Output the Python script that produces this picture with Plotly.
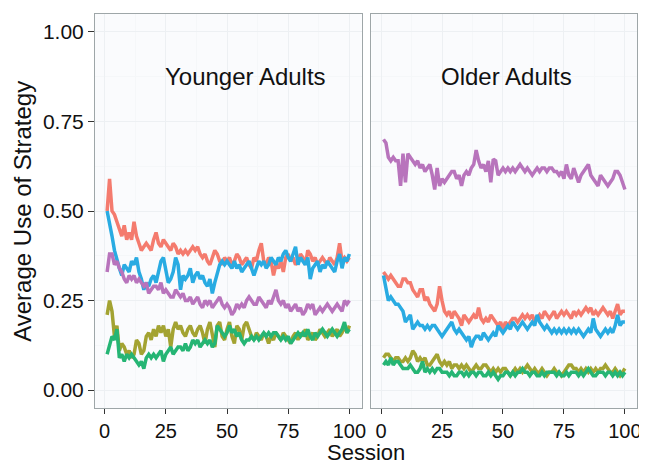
import plotly.graph_objects as go

sessions = list(range(1, 101))

panels = ["Younger Adults", "Older Adults"]
series_names = ["Strategy 1", "Strategy 2", "Strategy 3", "Strategy 4", "Strategy 5"]
colors = ["#F47B6E", "#A3A332", "#25B574", "#29ABE2", "#B874BC"]

young_red = [0.50, 0.59, 0.50, 0.49, 0.47, 0.45, 0.43, 0.46, 0.42, 0.44,
             0.42, 0.47, 0.43, 0.41, 0.39, 0.40, 0.41, 0.40, 0.39, 0.42,
             0.44, 0.41, 0.40, 0.42, 0.41, 0.40, 0.39, 0.41, 0.40, 0.38,
             0.39, 0.38, 0.39, 0.38, 0.39, 0.40, 0.39, 0.40, 0.38, 0.37,
             0.38, 0.36, 0.35, 0.37, 0.39, 0.38, 0.36, 0.35, 0.37, 0.36,
             0.37, 0.35, 0.36, 0.38, 0.37, 0.35, 0.36, 0.37, 0.35, 0.34,
             0.37, 0.36, 0.39, 0.41, 0.36, 0.35, 0.37, 0.36, 0.32, 0.35,
             0.34, 0.36, 0.33, 0.37, 0.38, 0.36, 0.37, 0.35, 0.36, 0.38,
             0.37, 0.35, 0.39, 0.38, 0.36, 0.37, 0.35, 0.36, 0.37, 0.36,
             0.35, 0.37, 0.36, 0.35, 0.37, 0.41, 0.36, 0.37, 0.36, 0.37]
young_olive = [0.21, 0.25, 0.22, 0.15, 0.18, 0.11, 0.13, 0.12, 0.10, 0.11,
               0.09, 0.10, 0.14, 0.13, 0.10, 0.11, 0.15, 0.16, 0.14, 0.17,
               0.15, 0.18, 0.16, 0.18, 0.15, 0.17, 0.12, 0.17, 0.19, 0.17,
               0.18, 0.16, 0.15, 0.17, 0.18, 0.16, 0.15, 0.17, 0.18, 0.16,
               0.13, 0.17, 0.19, 0.16, 0.12, 0.18, 0.19, 0.15, 0.14, 0.17,
               0.19, 0.15, 0.13, 0.18, 0.17, 0.14, 0.18, 0.19, 0.17, 0.15,
               0.14, 0.16, 0.15, 0.14, 0.16, 0.15, 0.13, 0.15, 0.14, 0.16,
               0.15, 0.14, 0.16, 0.15, 0.14, 0.13, 0.15, 0.16, 0.14, 0.16,
               0.15, 0.17, 0.14, 0.15, 0.16, 0.14, 0.15, 0.17, 0.16, 0.15,
               0.16, 0.17, 0.15, 0.16, 0.17, 0.15, 0.16, 0.18, 0.16, 0.18]
young_green = [0.10, 0.13, 0.15, 0.14, 0.17, 0.09, 0.10, 0.08, 0.10, 0.09,
               0.10, 0.09, 0.08, 0.07, 0.08, 0.06, 0.09, 0.10, 0.09, 0.10,
               0.09, 0.10, 0.11, 0.08, 0.10, 0.11, 0.12, 0.10, 0.11, 0.12,
               0.12, 0.11, 0.13, 0.11, 0.12, 0.14, 0.13, 0.14, 0.12, 0.13,
               0.14, 0.13, 0.14, 0.12, 0.13, 0.18, 0.17, 0.16, 0.15, 0.16,
               0.18, 0.16, 0.17, 0.15, 0.16, 0.14, 0.13, 0.14, 0.14, 0.15,
               0.14, 0.15, 0.14, 0.15, 0.16, 0.15, 0.16, 0.15, 0.16, 0.16,
               0.15, 0.14, 0.15, 0.14, 0.15, 0.13, 0.14, 0.15, 0.16, 0.15,
               0.16, 0.15, 0.17, 0.15, 0.14, 0.16, 0.15, 0.16, 0.17, 0.16,
               0.15, 0.16, 0.17, 0.16, 0.15, 0.16, 0.17, 0.19, 0.16, 0.17]
young_blue = [0.50, 0.47, 0.43, 0.39, 0.36, 0.34, 0.32, 0.35, 0.34, 0.33,
              0.36, 0.35, 0.37, 0.33, 0.31, 0.28, 0.30, 0.29, 0.31, 0.32,
              0.30, 0.33, 0.36, 0.37, 0.34, 0.30, 0.31, 0.33, 0.37, 0.35,
              0.28, 0.32, 0.31, 0.32, 0.34, 0.30, 0.32, 0.33, 0.31, 0.32,
              0.30, 0.29, 0.31, 0.27, 0.30, 0.33, 0.35, 0.36, 0.35, 0.36,
              0.35, 0.34, 0.36, 0.34, 0.35, 0.33, 0.34, 0.35, 0.36, 0.34,
              0.32, 0.34, 0.36, 0.35, 0.36, 0.34, 0.35, 0.37, 0.36, 0.35,
              0.37, 0.36, 0.38, 0.39, 0.37, 0.36, 0.38, 0.40, 0.35, 0.37,
              0.36, 0.35, 0.37, 0.31, 0.34, 0.35, 0.36, 0.33, 0.35, 0.34,
              0.36, 0.35, 0.34, 0.33, 0.36, 0.38, 0.34, 0.37, 0.36, 0.38]
young_purple = [0.33, 0.38, 0.38, 0.35, 0.36, 0.34, 0.33, 0.31, 0.30, 0.32,
                0.31, 0.32, 0.30, 0.31, 0.30, 0.29, 0.30, 0.27, 0.28, 0.29,
                0.29, 0.28, 0.30, 0.27, 0.28, 0.27, 0.26, 0.26, 0.28, 0.27,
                0.26, 0.27, 0.25, 0.25, 0.26, 0.24, 0.25, 0.26, 0.24, 0.23,
                0.25, 0.24, 0.25, 0.23, 0.24, 0.25, 0.26, 0.24, 0.23, 0.24,
                0.23, 0.21, 0.22, 0.24, 0.23, 0.24, 0.23, 0.25, 0.26, 0.25,
                0.24, 0.24, 0.26, 0.25, 0.24, 0.23, 0.25, 0.24, 0.26, 0.28,
                0.25, 0.24, 0.25, 0.23, 0.24, 0.22, 0.23, 0.24, 0.22, 0.23,
                0.21, 0.22, 0.24, 0.23, 0.24, 0.21, 0.22, 0.23, 0.22, 0.23,
                0.24, 0.23, 0.22, 0.23, 0.24, 0.23, 0.22, 0.25, 0.24, 0.25]

old_red = [0.33, 0.32, 0.31, 0.32, 0.31, 0.30, 0.29, 0.29, 0.31, 0.31,
           0.30, 0.30, 0.28, 0.27, 0.26, 0.28, 0.28, 0.25, 0.26, 0.24,
           0.23, 0.22, 0.24, 0.29, 0.25, 0.22, 0.21, 0.22, 0.20, 0.22,
           0.21, 0.20, 0.18, 0.21, 0.20, 0.19, 0.20, 0.21, 0.20, 0.23,
           0.20, 0.19, 0.20, 0.19, 0.21, 0.20, 0.19, 0.18, 0.19, 0.17,
           0.19, 0.18, 0.19, 0.20, 0.20, 0.19, 0.20, 0.21, 0.20, 0.21,
           0.20, 0.21, 0.19, 0.20, 0.21, 0.20, 0.22, 0.21, 0.20, 0.21,
           0.22, 0.20, 0.21, 0.22, 0.21, 0.22, 0.21, 0.20, 0.22, 0.21,
           0.22, 0.21, 0.22, 0.23, 0.22, 0.23, 0.21, 0.22, 0.21, 0.22,
           0.23, 0.22, 0.21, 0.22, 0.20, 0.22, 0.24, 0.21, 0.22, 0.22]
old_olive = [0.09, 0.10, 0.10, 0.09, 0.08, 0.09, 0.09, 0.08, 0.08, 0.09,
             0.08, 0.09, 0.11, 0.10, 0.08, 0.09, 0.08, 0.09, 0.07, 0.07,
             0.08, 0.09, 0.10, 0.08, 0.07, 0.08, 0.07, 0.08, 0.06, 0.07,
             0.07, 0.06, 0.07, 0.06, 0.07, 0.06, 0.05, 0.06, 0.07, 0.06,
             0.06, 0.07, 0.07, 0.06, 0.05, 0.06, 0.05, 0.06, 0.05, 0.06,
             0.06, 0.05, 0.04, 0.05, 0.06, 0.05, 0.06, 0.05, 0.06, 0.07,
             0.06, 0.05, 0.06, 0.05, 0.05, 0.06, 0.05, 0.04, 0.05, 0.05,
             0.06, 0.05, 0.05, 0.04, 0.05, 0.06, 0.07, 0.07, 0.06, 0.06,
             0.05, 0.06, 0.05, 0.06, 0.05, 0.06, 0.05, 0.06, 0.05, 0.06,
             0.06, 0.07, 0.06, 0.05, 0.05, 0.06, 0.05, 0.04, 0.05, 0.06]
old_green = [0.07, 0.08, 0.07, 0.09, 0.07, 0.08, 0.08, 0.07, 0.06, 0.06,
             0.06, 0.07, 0.06, 0.05, 0.05, 0.06, 0.08, 0.05, 0.06, 0.05,
             0.06, 0.05, 0.06, 0.06, 0.05, 0.05, 0.05, 0.04, 0.05, 0.04,
             0.04, 0.05, 0.05, 0.04, 0.05, 0.04, 0.05, 0.05, 0.04, 0.05,
             0.05, 0.04, 0.04, 0.05, 0.04, 0.05, 0.04, 0.03, 0.04, 0.04,
             0.05, 0.05, 0.04, 0.05, 0.04, 0.05, 0.05, 0.06, 0.05, 0.05,
             0.04, 0.05, 0.05, 0.04, 0.04, 0.05, 0.04, 0.05, 0.05, 0.05,
             0.05, 0.04, 0.05, 0.04, 0.04, 0.05, 0.04, 0.05, 0.05, 0.05,
             0.04, 0.05, 0.04, 0.05, 0.06, 0.05, 0.04, 0.04, 0.05, 0.05,
             0.05, 0.04, 0.05, 0.05, 0.04, 0.05, 0.04, 0.05, 0.04, 0.05]
old_blue = [0.32, 0.29, 0.25, 0.26, 0.25, 0.24, 0.24, 0.23, 0.22, 0.19,
            0.20, 0.21, 0.17, 0.18, 0.19, 0.18, 0.18, 0.17, 0.18, 0.17,
            0.18, 0.18, 0.17, 0.16, 0.15, 0.16, 0.17, 0.18, 0.19, 0.17,
            0.16, 0.17, 0.16, 0.15, 0.14, 0.15, 0.12, 0.14, 0.15, 0.15,
            0.14, 0.16, 0.15, 0.14, 0.15, 0.16, 0.15, 0.18, 0.17, 0.16,
            0.17, 0.18, 0.17, 0.19, 0.18, 0.17, 0.18, 0.19, 0.18, 0.17,
            0.18, 0.19, 0.18, 0.21, 0.19, 0.18, 0.17, 0.18, 0.17, 0.16,
            0.17, 0.16, 0.17, 0.16, 0.17, 0.16, 0.17, 0.16, 0.17, 0.16,
            0.17, 0.16, 0.15, 0.16, 0.17, 0.16, 0.20, 0.17, 0.16, 0.15,
            0.16, 0.17, 0.16, 0.17, 0.16, 0.18, 0.21, 0.18, 0.19, 0.19]
old_purple = [0.70, 0.69, 0.65, 0.64, 0.65, 0.64, 0.64, 0.57, 0.66, 0.58,
              0.66, 0.65, 0.64, 0.63, 0.64, 0.62, 0.63, 0.61, 0.62, 0.63,
              0.60, 0.56, 0.62, 0.57, 0.59, 0.58, 0.59, 0.60, 0.61, 0.61,
              0.59, 0.60, 0.57, 0.60, 0.61, 0.60, 0.62, 0.63, 0.67, 0.64,
              0.62, 0.63, 0.61, 0.64, 0.58, 0.645, 0.64, 0.60, 0.61, 0.62,
              0.61, 0.62, 0.61, 0.62, 0.61, 0.62, 0.63, 0.62, 0.61, 0.62,
              0.61, 0.60, 0.61, 0.62, 0.61, 0.62, 0.62, 0.61, 0.62, 0.62,
              0.61, 0.61, 0.60, 0.61, 0.59, 0.63, 0.60, 0.59, 0.62, 0.60,
              0.58, 0.60, 0.61, 0.62, 0.63, 0.60, 0.59, 0.58, 0.57, 0.60,
              0.59, 0.58, 0.57, 0.58, 0.59, 0.61, 0.61, 0.60, 0.58, 0.56]

young = [young_red, young_olive, young_green, young_blue, young_purple]
old = [old_red, old_olive, old_green, old_blue, old_purple]

x_ticks = [0, 25, 50, 75, 100]
y_ticks = [0.0, 0.25, 0.5, 0.75, 1.0]
y_tick_labels = ["0.00", "0.25", "0.50", "0.75", "1.00"]

FONT = "Liberation Sans, Arial, sans-serif"
fig = go.Figure()

for i, name in enumerate(series_names):
    fig.add_trace(go.Scatter(x=sessions, y=young[i], mode="lines", name=name,
                             line=dict(color=colors[i], width=3.5), xaxis="x", yaxis="y",
                             showlegend=False))
    fig.add_trace(go.Scatter(x=sessions, y=old[i], mode="lines", name=name,
                             line=dict(color=colors[i], width=3.5), xaxis="x2", yaxis="y2",
                             showlegend=False))

grid = "#EDF0F3"
border = "#9EA6A8"
xcommon = dict(range=[-3.95, 104.95], tickvals=x_ticks, ticks="outside", ticklen=5,
               tickcolor="#333333", tickwidth=1.2, showgrid=True, gridcolor=grid,
               zeroline=False, showline=True, mirror=True, linecolor=border, linewidth=1,
               tickfont=dict(family=FONT, size=20, color="#111111"),
               minor=dict(showgrid=True, gridcolor="#F5F7F9", tickvals=[12.5, 37.5, 62.5, 87.5]))
ycommon = dict(range=[-0.05, 1.05], tickvals=y_ticks, showgrid=True, gridcolor=grid,
               zeroline=False, showline=True, mirror=True, linecolor=border, linewidth=1,
               minor=dict(showgrid=True, gridcolor="#F5F7F9", tickvals=[0.125, 0.375, 0.625, 0.875]))

# The page body has an 8px default margin, so the figure is 8px smaller than the window.
fig.update_layout(
    width=639, height=458,
    margin=dict(l=87, r=7, t=5, b=58),
    paper_bgcolor="#FFFFFF",
    plot_bgcolor="#FAFBFD",
    xaxis=dict(domain=[0, 0.4917], anchor="y", **xcommon),
    xaxis2=dict(domain=[0.510, 1.0], anchor="y2", **xcommon),
    yaxis=dict(domain=[0, 1], anchor="x", ticks="outside", ticklen=6, tickcolor="#333333",
               tickwidth=1.2, ticktext=y_tick_labels,
               tickfont=dict(family=FONT, size=21, color="#111111"), **ycommon),
    yaxis2=dict(domain=[0, 1], anchor="x2", showticklabels=False, ticks="", **ycommon),
    showlegend=False,
)

fig.add_annotation(text="Younger Adults", x=57.5, y=0.875, xref="x", yref="y", showarrow=False,
                   font=dict(family=FONT, size=24, color="#111111"))
fig.add_annotation(text="Older Adults", x=51.5, y=0.875, xref="x2", yref="y2", showarrow=False,
                   font=dict(family=FONT, size=24, color="#111111"))
fig.add_annotation(text="Average Use of Strategy", x=-0.135, y=0.5, xref="paper", yref="paper",
                   textangle=-90, showarrow=False, xanchor="center", yanchor="middle",
                   font=dict(family=FONT, size=24, color="#111111"))
fig.add_annotation(text="Session", x=0.5, y=-0.077, xref="paper", yref="paper",
                   showarrow=False, xanchor="center", yanchor="top",
                   font=dict(family=FONT, size=22, color="#111111"))

fig.write_html("out.html")
